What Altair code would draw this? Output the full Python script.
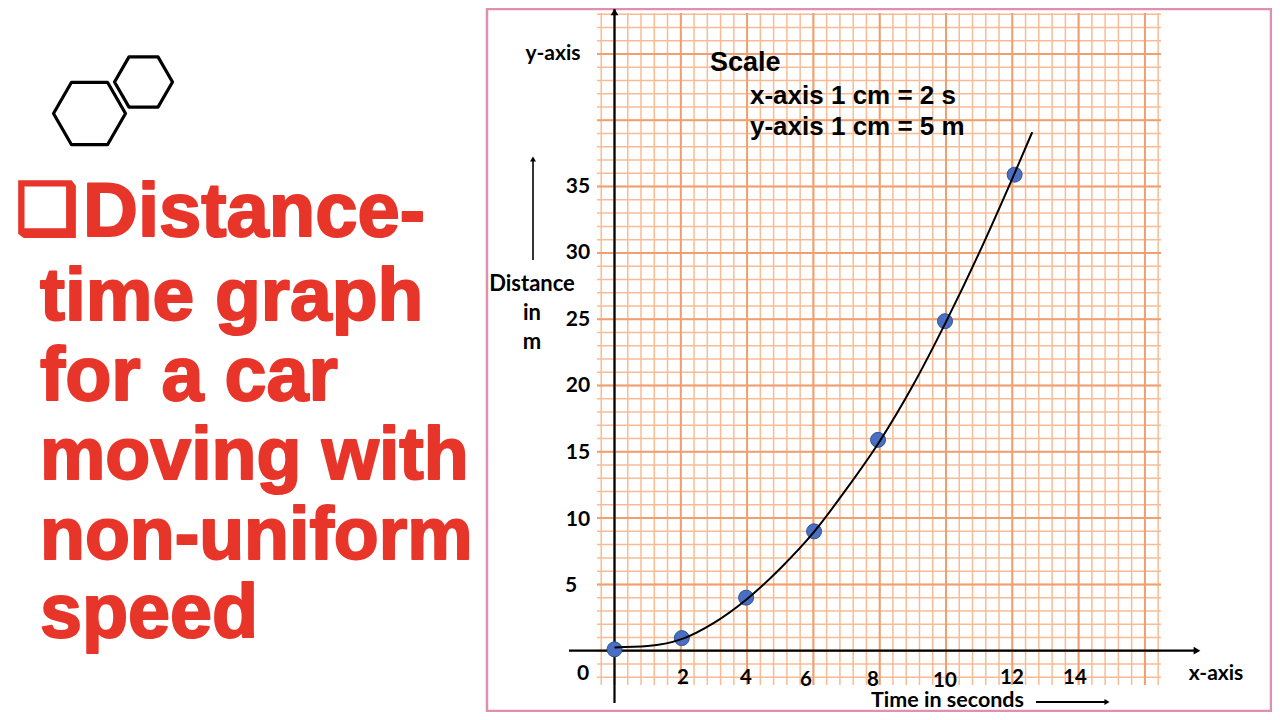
import altair as alt
import pandas as pd

# ---- values ----
times = [0, 2.03, 3.97, 6.02, 7.95, 9.97, 12.07]
distances = [0.1, 0.95, 4.0, 9.0, 15.9, 24.85, 35.9]
curve_t = [0, 1, 2, 3, 4, 5, 6, 7, 8, 9, 10, 11, 12, 12.6]
curve_d = [0.25, 0.35, 0.85, 2.1, 3.9, 6.2, 8.9, 12.2, 15.8, 20.0, 24.8, 30.0, 35.6, 39.1]
x_tick_labels = ["2", "4", "6", "8", "10", "12", "14"]
y_tick_labels = ["5", "10", "15", "20", "25", "30", "35"]
title_lines = ["Distance-", "time graph", "for a car", "moving with", "non-uniform", "speed"]
scale_lines = ["Scale", "x-axis 1 cm = 2 s", "y-axis 1 cm = 5 m"]
distance_words = ["Distance", "in", "m"]

W, H = 1264, 704
PX0, PX_PER_S = 614.5, 33.15
PY0, PX_PER_M = 650.7, 13.26


def to_x(px):
    return (px - PX0) / PX_PER_S


def to_y(py):
    return (PY0 - py) / PX_PER_M


xs = alt.Scale(domain=[to_x(8), to_x(8 + W)], nice=False, zero=False)
ys = alt.Scale(domain=[to_y(8 + H), to_y(8)], nice=False, zero=False)
X = lambda f: alt.X(f, type="quantitative", scale=xs, axis=None)
Y = lambda f: alt.Y(f, type="quantitative", scale=ys, axis=None)

RED = "#e8352a"
MAJOR = "#f0a070"
MINOR = "#f7bc96"
GRID_X0, GRID_X1 = to_x(597), to_x(1161)
GRID_Y0, GRID_Y1 = to_y(685), to_y(13)


def vlines(values, color, width):
    d = pd.DataFrame({"x": values, "a": GRID_Y0, "b": GRID_Y1})
    return alt.Chart(d).mark_rule(color=color, strokeWidth=width).encode(
        x=X("x"), y=Y("a"), y2="b")


def hlines(values, color, width):
    d = pd.DataFrame({"y": values, "a": GRID_X0, "b": GRID_X1})
    return alt.Chart(d).mark_rule(color=color, strokeWidth=width).encode(
        y=Y("y"), x=X("a"), x2="b")


def seg(x1, y1, x2, y2, width=2.2):
    d = pd.DataFrame({"x1": [x1], "y1": [y1], "x2": [x2], "y2": [y2]})
    return alt.Chart(d).mark_rule(color="black", strokeWidth=width).encode(
        x=X("x1"), y=Y("y1"), x2="x2", y2="y2")


def head(x, y, angle, size=60):
    d = pd.DataFrame({"x": [x], "y": [y]})
    return alt.Chart(d).mark_point(shape="triangle-up", filled=True, color="black",
                                   opacity=1, size=size, angle=angle).encode(x=X("x"), y=Y("y"))


def label(text, px, py, size=21, font="Lato", weight="bold", color="black", align="center", **kw):
    d = pd.DataFrame({"t": [text]})
    return alt.Chart(d).mark_text(font=font, fontSize=size, fontWeight=weight, color=color,
                                  align=align, baseline="middle", **kw).encode(
        x=alt.value(px - 8), y=alt.value(py - 8), text="t:N")


HEX = "M-1,0L-0.5,-0.866L0.5,-0.866L1,0L0.5,0.866L-0.5,0.866Z"


def hexagon(px, py, w):
    d = pd.DataFrame({"x": [to_x(px)], "y": [to_y(py)]})
    return alt.Chart(d).mark_point(shape=HEX, size=w * w, filled=False, color="black",
                                   strokeWidth=3.2, opacity=1, strokeJoin="round").encode(
        x=X("x"), y=Y("y"))


frame_d = pd.DataFrame({"a": [1]})
frame = alt.Chart(frame_d).mark_rect(fill="white", stroke="#e08fb0", strokeWidth=2.5).encode(
    x=alt.value(487 - 8), x2=alt.value(W - 1), y=alt.value(1), y2=alt.value(H - 1))

minor_x = [(i - 1) * 0.4 for i in range(0, 43)]
major_x = [2 * i for i in range(0, 9)]
minor_y = list(range(-2, 49))
major_y = [5 * i for i in range(0, 10)]

layers = [frame,
          vlines(minor_x, MINOR, 1.5), hlines(minor_y, MINOR, 1.5),
          vlines(major_x, MAJOR, 2.0), hlines(major_y, MAJOR, 2.0),
          seg(0, to_y(9), 0, to_y(703)), seg(to_x(569), 0, to_x(1195), 0),
          head(0, to_y(12), 0), head(to_x(1197), 0, 90),
          seg(to_x(533), to_y(260), to_x(533), to_y(160), 1.6), head(to_x(533), to_y(159), 0, 35),
          seg(to_x(1036), to_y(702), to_x(1105), to_y(702), 1.8), head(to_x(1107), to_y(702), 90, 35)]

pts = pd.DataFrame({"t": times, "d": distances})
layers.append(alt.Chart(pts).mark_circle(size=225, color="#4a6fc2", opacity=1, stroke="#35548f",
                                         strokeWidth=1).encode(x=X("t"), y=Y("d")))
crv = pd.DataFrame({"t": curve_t, "d": curve_d})
layers.append(alt.Chart(crv).mark_line(color="black", strokeWidth=2, interpolate="monotone").encode(
    x=X("t"), y=Y("d")))

# tick labels
for t, px, py in zip(x_tick_labels, [683, 746, 806, 873, 945, 1012, 1075],
                     [678, 678, 680, 680, 681, 678, 678]):
    layers.append(label(t, px, py, 20.5))
for t, px, py in zip(y_tick_labels, [571, 578, 578, 578, 578, 578, 578],
                     [586, 520, 453, 386, 320, 253, 187]):
    layers.append(label(t, px, py, 21))
layers.append(label("0", 583, 674, 21))
layers.append(label("y-axis", 553, 54, 21))
layers.append(label("x-axis", 1216, 674, 21))
for t, py in zip(distance_words, [284, 313, 342]):
    layers.append(label(t, 532, py, 22))
layers.append(label("Time in seconds", 871, 701, 21.5, align="left"))
for t, px, py, s in zip(scale_lines, [710, 750, 750], [63, 96, 127], [27, 26, 26]):
    layers.append(label(t, px, py, s, font="Liberation Sans", align="left"))

# left panel
layers.append(hexagon(89.5, 113.5, 72))
layers.append(hexagon(143.5, 82, 58))
layers.append(label("\u2751", 47, 212, 70, font="DejaVu Sans", color=RED, stroke=RED, strokeWidth=3.5))
for t, px, py, s in zip(title_lines, [83, 40, 40, 40, 40, 40], [213, 297, 377, 457, 537, 614],
                        [76, 75, 75.5, 73.5, 73.5, 75.5]):
    layers.append(label(t, px, py, s, font="Liberation Sans", color=RED, align="left",
                        stroke=RED, strokeWidth=2, strokeJoin="round"))

chart = alt.layer(*layers).properties(
    width=W, height=H, padding=0, background="white",
    autosize=alt.AutoSizeParams(type="none"),
).configure_view(stroke=None)

chart.save("out.html", embed_options={"renderer": "svg", "actions": False})
